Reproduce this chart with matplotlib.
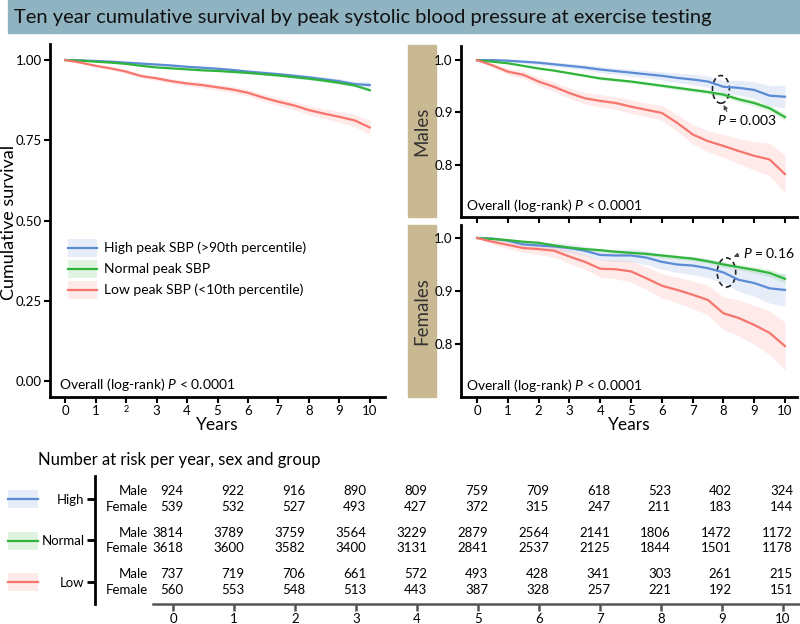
import numpy as np
import matplotlib
matplotlib.use('Agg')
from matplotlib import pyplot as plt
from matplotlib.patches import Rectangle, Ellipse
from matplotlib.lines import Line2D

plt.rcParams['font.family'] = ['Lato', 'DejaVu Sans']
plt.rcParams['mathtext.fontset'] = 'custom'
plt.rcParams['mathtext.rm'] = 'Lato'
plt.rcParams['mathtext.it'] = 'Lato:italic'

# ---- data ----
years = [0, 0.5, 1, 1.5, 2, 2.5, 3, 3.5, 4, 4.5, 5, 5.5, 6, 6.5, 7, 7.5, 8, 8.5, 9, 9.5, 10]
group_names = ['High', 'Normal', 'Low']
legend_labels = ['High peak SBP (>90th percentile)', 'Normal peak SBP', 'Low peak SBP (<10th percentile)']

# overall
high_all = [1.0, 0.999, 0.997, 0.995, 0.992, 0.989, 0.986, 0.983, 0.979, 0.976, 0.973, 0.969, 0.964, 0.960, 0.956, 0.951, 0.946, 0.940, 0.934, 0.925, 0.922]
normal_all = [1.0, 0.998, 0.995, 0.992, 0.988, 0.982, 0.977, 0.974, 0.971, 0.968, 0.966, 0.963, 0.960, 0.956, 0.952, 0.947, 0.942, 0.936, 0.929, 0.921, 0.906]
low_all = [1.0, 0.992, 0.982, 0.974, 0.964, 0.950, 0.943, 0.934, 0.927, 0.922, 0.915, 0.908, 0.898, 0.883, 0.870, 0.859, 0.844, 0.833, 0.823, 0.812, 0.790]
high_all_hw = [0, 0.001, 0.002, 0.002, 0.003, 0.003, 0.004, 0.004, 0.004, 0.005, 0.005, 0.005, 0.006, 0.006, 0.006, 0.007, 0.007, 0.008, 0.008, 0.009, 0.010]
normal_all_hw = [0, 0.001, 0.001, 0.001, 0.001, 0.001, 0.002, 0.002, 0.002, 0.002, 0.002, 0.002, 0.003, 0.003, 0.003, 0.003, 0.003, 0.004, 0.004, 0.004, 0.005]
low_all_hw = [0, 0.002, 0.004, 0.005, 0.006, 0.006, 0.007, 0.007, 0.008, 0.008, 0.009, 0.010, 0.010, 0.011, 0.012, 0.013, 0.014, 0.015, 0.017, 0.019, 0.022]

# males
high_m = [1.0, 1.0, 0.999, 0.997, 0.995, 0.992, 0.989, 0.986, 0.982, 0.979, 0.976, 0.973, 0.970, 0.966, 0.963, 0.959, 0.949, 0.947, 0.943, 0.932, 0.930]
normal_m = [1.0, 0.997, 0.994, 0.989, 0.984, 0.980, 0.975, 0.970, 0.965, 0.962, 0.959, 0.955, 0.951, 0.947, 0.943, 0.939, 0.934, 0.925, 0.918, 0.908, 0.891]
low_m = [1.0, 0.990, 0.978, 0.972, 0.959, 0.949, 0.937, 0.927, 0.922, 0.918, 0.911, 0.905, 0.899, 0.880, 0.858, 0.845, 0.836, 0.826, 0.817, 0.810, 0.782]
high_m_hw = [0, 0.001, 0.002, 0.003, 0.004, 0.004, 0.005, 0.005, 0.006, 0.006, 0.007, 0.007, 0.008, 0.009, 0.010, 0.011, 0.012, 0.014, 0.016, 0.019, 0.022]
normal_m_hw = [0, 0.001, 0.001, 0.001, 0.002, 0.002, 0.002, 0.002, 0.003, 0.003, 0.003, 0.003, 0.003, 0.004, 0.004, 0.004, 0.005, 0.005, 0.006, 0.006, 0.007]
low_m_hw = [0, 0.004, 0.006, 0.007, 0.008, 0.009, 0.010, 0.011, 0.012, 0.012, 0.013, 0.013, 0.014, 0.016, 0.018, 0.020, 0.022, 0.024, 0.027, 0.031, 0.036]

# females
high_f = [1.0, 0.999, 0.995, 0.988, 0.986, 0.984, 0.981, 0.976, 0.968, 0.967, 0.967, 0.963, 0.955, 0.950, 0.948, 0.943, 0.935, 0.921, 0.915, 0.905, 0.902]
normal_f = [1.0, 0.998, 0.996, 0.993, 0.991, 0.986, 0.982, 0.979, 0.977, 0.974, 0.972, 0.970, 0.967, 0.964, 0.961, 0.956, 0.950, 0.945, 0.940, 0.934, 0.923]
low_f = [1.0, 0.993, 0.987, 0.981, 0.979, 0.976, 0.965, 0.955, 0.942, 0.941, 0.937, 0.924, 0.910, 0.902, 0.893, 0.883, 0.858, 0.849, 0.836, 0.821, 0.796]
high_f_hw = [0, 0.002, 0.004, 0.005, 0.006, 0.007, 0.008, 0.009, 0.010, 0.011, 0.012, 0.013, 0.014, 0.015, 0.017, 0.018, 0.020, 0.022, 0.025, 0.028, 0.031]
normal_f_hw = [0, 0.001, 0.001, 0.001, 0.002, 0.002, 0.002, 0.002, 0.003, 0.003, 0.003, 0.003, 0.004, 0.004, 0.004, 0.004, 0.005, 0.005, 0.006, 0.007, 0.008]
low_f_hw = [0, 0.005, 0.007, 0.008, 0.010, 0.012, 0.013, 0.014, 0.016, 0.018, 0.020, 0.021, 0.023, 0.024, 0.026, 0.028, 0.031, 0.034, 0.037, 0.041, 0.045]

# number at risk
risk_years = [0, 1, 2, 3, 4, 5, 6, 7, 8, 9, 10]
high_male = [924, 922, 916, 890, 809, 759, 709, 618, 523, 402, 324]
high_female = [539, 532, 527, 493, 427, 372, 315, 247, 211, 183, 144]
normal_male = [3814, 3789, 3759, 3564, 3229, 2879, 2564, 2141, 1806, 1472, 1172]
normal_female = [3618, 3600, 3582, 3400, 3131, 2841, 2537, 2125, 1844, 1501, 1178]
low_male = [737, 719, 706, 661, 572, 493, 428, 341, 303, 261, 215]
low_female = [560, 553, 548, 513, 443, 387, 328, 257, 221, 192, 151]

colors = ['#5b8bd5', '#2fb53b', '#f7756c']
W, H = 800, 624

fig = plt.figure(figsize=(W / 100, H / 100), dpi=100)


def add_ax(left, top, right, bottom):
    # pixel box -> figure fraction
    return fig.add_axes([left / W, 1 - bottom / H, (right - left) / W, (bottom - top) / H])


def style_km(ax):
    for s in ['top', 'right']:
        ax.spines[s].set_visible(False)
    for s in ['left', 'bottom']:
        ax.spines[s].set_linewidth(2)
    ax.tick_params(direction='out', length=4, width=1.5, labelsize=9.5, colors='black', pad=2)


def draw_km(ax, curves, hws):
    for vals, hw, c in zip(curves, hws, colors):
        v = np.array(vals)
        h = np.array(hw)
        ax.fill_between(years, v - h, v + h, color=c, alpha=0.15, lw=0)
        ax.plot(years, v, color=c, lw=1.6)


# title bar
fig.patches.append(Rectangle((8 / W, 1 - 33 / H), 792 / W, 33 / H, transform=fig.transFigure,
                             color='#8fb3c1', zorder=-1))
fig.text(14 / W, 1 - 17 / H, 'Ten year cumulative survival by peak systolic blood pressure at exercise testing',
         fontsize=14.5, va='center', ha='left', color='#111111')

# ---- left panel: overall ----
ax = add_ax(50, 44, 385, 397)
draw_km(ax, [high_all, normal_all, low_all], [high_all_hw, normal_all_hw, low_all_hw])
ax.set_xlim(-0.5, 10.5)
ax.set_ylim(-0.05, 1.05)
ax.set_yticks([0, 0.25, 0.5, 0.75, 1.0])
ax.set_yticklabels(['0.00', '0.25', '0.50', '0.75', '1.00'])
ax.set_xticks(risk_years)
style_km(ax)
ax.get_xticklabels()[2].set_fontsize(6.5)
ax.text(0.027, 0.034, 'Overall (log-rank) $P$ < 0.0001', transform=ax.transAxes, fontsize=10, va='center')
fig.text(217 / W, 1 - 425 / H, 'Years', fontsize=12.5, ha='center', va='center')
fig.text(9 / W, 1 - 222 / H, 'Cumulative survival', fontsize=13, rotation=90, ha='center', va='center')

# legend drawn by hand
for i, (lab, c) in enumerate(zip(legend_labels, colors)):
    yc = (397 - (248 + 21 * i)) / 353
    ax.add_patch(Rectangle((0.054, yc - 0.025), 0.087, 0.05, transform=ax.transAxes,
                           color=c, alpha=0.15, lw=0, clip_on=False))
    ax.add_line(Line2D([0.054, 0.141], [yc, yc], transform=ax.transAxes, color=c, lw=1.6))
    ax.text(0.161, yc, lab, transform=ax.transAxes, fontsize=10, va='center')

# ---- right panels ----
axm = add_ax(461, 46, 797, 217)
draw_km(axm, [high_m, normal_m, low_m], [high_m_hw, normal_m_hw, low_m_hw])
axf = add_ax(461, 225, 797, 397)
draw_km(axf, [high_f, normal_f, low_f], [high_f_hw, normal_f_hw, low_f_hw])
for a, top in [(axm, 1.027), (axf, 1.0245)]:
    a.set_xlim(-0.52, 10.39)
    a.set_ylim(0.70, top)
    a.set_yticks([0.8, 0.9, 1.0])
    a.set_yticklabels(['0.8', '0.9', '1.0'])
    a.set_xticks(risk_years)
    style_km(a)
    a.text(0.015, 0.065, 'Overall (log-rank) $P$ < 0.0001', transform=a.transAxes, fontsize=10, va='center')
axm.set_xticklabels([])
fig.text(629 / W, 1 - 425 / H, 'Years', fontsize=12.5, ha='center', va='center')

# sex label boxes
for label, top, bot in [('Males', 45, 217), ('Females', 225, 397)]:
    fig.patches.append(Rectangle((408 / W, 1 - bot / H), 28 / W, (bot - top) / H,
                                 transform=fig.transFigure, color='#c9b992', zorder=-1))
    fig.text(422 / W, 1 - (top + bot) / 2 / H, label, rotation=90, fontsize=13.5,
             ha='center', va='center', color='#333333')

# pairwise annotations
axm.add_patch(Ellipse((7.92, 0.944), 0.55, 0.053, fill=False, ls=(0, (3, 2)), lw=1.2, color='#222222'))
axm.annotate('', xy=(7.97, 0.919), xytext=(8.15, 0.897),
             arrowprops=dict(arrowstyle='-|>', lw=0.8, color='#444444', mutation_scale=6))
axm.text(7.8, 0.886, '$P$ = 0.003', fontsize=10, va='center', ha='left')

axf.add_patch(Ellipse((8.1, 0.935), 0.6, 0.055, fill=False, ls=(0, (3, 2)), lw=1.2, color='#222222'))
axf.annotate('', xy=(8.25, 0.963), xytext=(8.58, 0.970),
             arrowprops=dict(arrowstyle='-|>', lw=0.8, color='#444444', mutation_scale=6))
axf.text(8.64, 0.971, '$P$ = 0.16', fontsize=10, va='center', ha='left')

# ---- number at risk table ----
fig.text(38 / W, 1 - 460 / H, 'Number at risk per year, sex and group', fontsize=12, va='center')
axt = add_ax(95, 476, 800, 604)
axt.set_xlim(-1.279, 10.279)
axt.set_ylim(2.53, -0.554)
for s in ['top', 'right']:
    axt.spines[s].set_visible(False)
axt.spines['left'].set_linewidth(2)
axt.spines['bottom'].set_linewidth(1.8)
axt.spines['bottom'].set_color('#555555')
axt.spines['bottom'].set_bounds(-0.33, 10.279)
axt.set_yticks([0, 1, 2])
axt.set_yticklabels(group_names, fontsize=9.5)
axt.set_xticks(risk_years)
axt.tick_params(axis='y', length=6, width=2, pad=1.5)
axt.tick_params(axis='x', length=5, width=1.8, color='#555555', labelsize=9.5, pad=1.5)

table_rows = [(high_male, high_female), (normal_male, normal_female), (low_male, low_female)]
for g, (males, females) in enumerate(table_rows):
    axt.text(-0.41, g - 0.19, 'Male', ha='right', va='center', fontsize=9.5)
    axt.text(-0.41, g + 0.19, 'Female', ha='right', va='center', fontsize=9.5)
    for yr, m, f in zip(risk_years, males, females):
        axt.text(yr + 0.165, g - 0.19, str(m), ha='right', va='center', fontsize=9.5)
        axt.text(yr + 0.165, g + 0.19, str(f), ha='right', va='center', fontsize=9.5)

# legend swatches beside the table
for i, c in enumerate(colors):
    yc = [499, 541, 582][i]
    fig.patches.append(Rectangle((8 / W, 1 - (yc + 9) / H), 30 / W, 18 / H,
                                 transform=fig.transFigure, color=c, alpha=0.15, lw=0))
    fig.lines.append(Line2D([8 / W, 38 / W], [1 - yc / H, 1 - yc / H], transform=fig.transFigure,
                            color=c, lw=1.6))

fig.savefig('out.png', dpi=100)
